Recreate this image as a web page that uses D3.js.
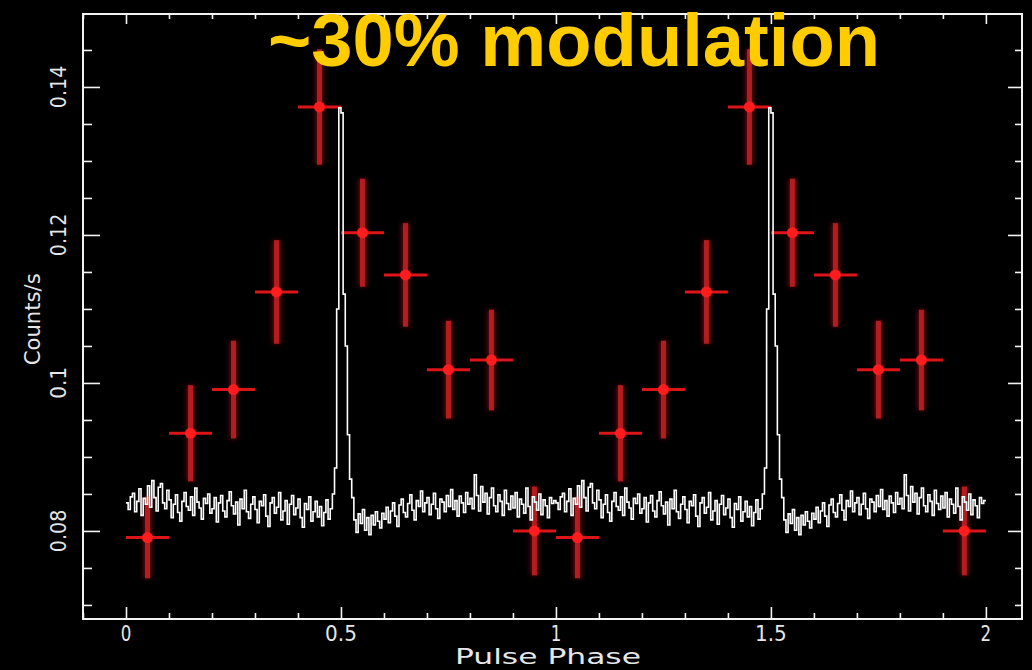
<!DOCTYPE html>
<html><head><meta charset="utf-8">
<script src="https://cdn.jsdelivr.net/npm/d3@7"></script>
<style>html,body{margin:0;padding:0;background:#000;overflow:hidden}</style>
</head><body><svg id="c" width="1032" height="670"></svg>
<script>
// ---------- data ----------
const phaseBins = [0.05, 0.15, 0.25, 0.35, 0.45, 0.55, 0.65, 0.75, 0.85, 0.95];
const countRates = [0.0791, 0.0932, 0.0991, 0.1123, 0.1373, 0.1203, 0.1146, 0.1018, 0.1031, 0.0800];
const countErrors = [0.0055, 0.0065, 0.0066, 0.0070, 0.0078, 0.0073, 0.0070, 0.0066, 0.0068, 0.0060];
const binHalfWidth = 0.05;
const cycles = [0, 1];
// reference (high-resolution) pulse profile, one cycle, 200 bins of 0.005 phase
const profileBinWidth = 0.005;
const profile = [
 0.0838,0.0829,0.0846,0.0851,0.0826,0.0840,0.0857,0.0821,0.0844,0.0836,
 0.0861,0.0832,0.0868,0.0845,0.0827,0.0859,0.0864,0.0838,0.0830,0.0855,
 0.0842,0.0818,0.0836,0.0849,0.0825,0.0813,0.0840,0.0852,0.0833,0.0828,
 0.0846,0.0821,0.0858,0.0839,0.0831,0.0816,0.0844,0.0837,0.0850,0.0824,
 0.0830,0.0845,0.0812,0.0838,0.0848,0.0827,0.0819,0.0841,0.0853,0.0834,
 0.0823,0.0839,0.0808,0.0843,0.0830,0.0855,0.0826,0.0817,0.0836,0.0846,
 0.0829,0.0811,0.0840,0.0834,0.0849,0.0820,0.0806,0.0838,0.0845,0.0824,
 0.0832,0.0852,0.0815,0.0827,0.0841,0.0809,0.0836,0.0848,0.0822,0.0831,
 0.0843,0.0818,0.0805,0.0837,0.0829,0.0846,0.0813,0.0826,0.0840,0.0819,
 0.0833,0.0807,0.0825,0.0842,0.0816,0.0830,
 0.0850,0.0885,0.1100,0.1372,0.1365,0.1120,0.1050,0.0930,0.0870,0.0845,
 0.0815,0.0798,0.0823,0.0810,0.0829,0.0801,0.0818,0.0795,0.0821,0.0808,0.0826,0.0813,0.0804,0.0824,
 0.0816,0.0832,0.0811,0.0827,0.0838,0.0820,0.0806,0.0835,0.0843,0.0825,
 0.0819,0.0837,0.0849,0.0828,0.0815,0.0841,0.0833,0.0854,0.0826,0.0838,
 0.0845,0.0822,0.0836,0.0851,0.0830,0.0817,0.0843,0.0839,0.0826,0.0848,
 0.0833,0.0856,0.0829,0.0841,0.0820,0.0847,0.0838,0.0825,0.0852,0.0836,
 0.0844,0.0830,0.0876,0.0848,0.0827,0.0860,0.0839,0.0851,0.0823,0.0845,
 0.0858,0.0834,0.0826,0.0849,0.0840,0.0821,0.0855,0.0837,0.0829,0.0847,
 0.0831,0.0852,0.0819,0.0843,0.0836,0.0824,0.0858,0.0833,0.0815,0.0846,
 0.0839,0.0828,0.0850,0.0822,0.0842,0.0834,0.0818,0.0845,0.0837,0.0841
];
const xMajorTicks = [0, 0.5, 1, 1.5, 2];
const xTickLabels = ["0", "0.5", "1", "1.5", "2"];
const xMinorTicks = [-0.1,0.1,0.2,0.3,0.4,0.6,0.7,0.8,0.9,1.1,1.2,1.3,1.4,1.6,1.7,1.8,1.9];
const yMajorTicks = [0.08, 0.1, 0.12, 0.14];
const yTickLabels = ["0.08", "0.1", "0.12", "0.14"];
const yMinorTicks = [0.07, 0.075, 0.085, 0.09, 0.095, 0.105, 0.11, 0.115, 0.125, 0.13, 0.135, 0.145];
const xTitle = "Pulse Phase";
const yTitle = "Counts/s";
const chartTitle = "~30% modulation";

// ---------- layout ----------
const W = 1032, H = 670;
const plot = {left: 83, right: 1022, top: 14, bottom: 619};
const x = d3.scaleLinear().domain([-0.1, 2.084]).range([plot.left, plot.right]);
const y = d3.scaleLinear().domain([0.0681, 0.14986]).range([plot.bottom, plot.top]);

const svg = d3.select("#c");
svg.append("rect").attr("width", W).attr("height", H).attr("fill", "#000");

const defs = svg.append("defs");
defs.append("filter").attr("id", "glow").attr("x", "-50%").attr("y", "-50%").attr("width", "200%").attr("height", "200%")
  .append("feGaussianBlur").attr("stdDeviation", 2.5);

// ---------- axes (ticks on all four sides, pointing inward) ----------
const axisCol = "#f2f2f2";
function styleAxis(g) {
  g.select(".domain").remove();
  g.selectAll("line").attr("stroke", axisCol).attr("stroke-width", 1.6);
  g.selectAll("text").remove();
}
svg.append("g").attr("transform", `translate(0,${plot.bottom})`)
  .call(d3.axisBottom(x).tickValues(xMajorTicks).tickSize(-12)).call(styleAxis);
svg.append("g").attr("transform", `translate(0,${plot.bottom})`)
  .call(d3.axisBottom(x).tickValues(xMinorTicks).tickSize(-6)).call(styleAxis);
svg.append("g").attr("transform", `translate(0,${plot.top})`)
  .call(d3.axisTop(x).tickValues(xMajorTicks).tickSize(-10)).call(styleAxis);
svg.append("g").attr("transform", `translate(0,${plot.top})`)
  .call(d3.axisTop(x).tickValues(xMinorTicks).tickSize(-5)).call(styleAxis);
svg.append("g").attr("transform", `translate(${plot.left},0)`)
  .call(d3.axisLeft(y).tickValues(yMajorTicks).tickSize(-17)).call(styleAxis);
svg.append("g").attr("transform", `translate(${plot.left},0)`)
  .call(d3.axisLeft(y).tickValues(yMinorTicks).tickSize(-9)).call(styleAxis);
svg.append("g").attr("transform", `translate(${plot.right},0)`)
  .call(d3.axisRight(y).tickValues(yMajorTicks).tickSize(-14)).call(styleAxis);
svg.append("g").attr("transform", `translate(${plot.right},0)`)
  .call(d3.axisRight(y).tickValues(yMinorTicks).tickSize(-7)).call(styleAxis);

svg.append("rect")
  .attr("x", plot.left).attr("y", plot.top)
  .attr("width", plot.right - plot.left).attr("height", plot.bottom - plot.top)
  .attr("fill", "none").attr("stroke", axisCol).attr("stroke-width", 2);

// tick labels
const labFont = "'DejaVu Sans', sans-serif";
const charW = 10.6;
svg.append("g").selectAll("text").data(xMajorTicks).join("text")
  .attr("x", d => x(d)).attr("y", 641)
  .attr("text-anchor", "middle")
  .attr("font-family", labFont).attr("font-size", 21)
  .attr("fill", "#e6e6e6")
  .attr("textLength", (d, i) => xTickLabels[i].length * charW)
  .attr("lengthAdjust", "spacingAndGlyphs")
  .text((d, i) => xTickLabels[i]);

svg.append("g").selectAll("text").data(yMajorTicks).join("text")
  .attr("transform", d => `translate(66,${y(d)}) rotate(-90)`)
  .attr("text-anchor", "middle")
  .attr("font-family", labFont).attr("font-size", 21)
  .attr("fill", "#e6e6e6")
  .attr("textLength", (d, i) => yTickLabels[i].length * charW)
  .attr("lengthAdjust", "spacingAndGlyphs")
  .text((d, i) => yTickLabels[i]);

svg.append("text")
  .attr("x", (x(0) + x(2)) / 2 - 8).attr("y", 664)
  .attr("text-anchor", "middle")
  .attr("font-family", labFont).attr("font-size", 21)
  .attr("fill", "#e6e6e6")
  .attr("textLength", 186).attr("lengthAdjust", "spacingAndGlyphs")
  .text(xTitle);

svg.append("text")
  .attr("transform", `translate(40,${y(0.1086)}) rotate(-90)`)
  .attr("text-anchor", "middle")
  .attr("font-family", labFont).attr("font-size", 22)
  .attr("fill", "#e6e6e6")
  .attr("textLength", 92).attr("lengthAdjust", "spacingAndGlyphs")
  .text(yTitle);

// ---------- red binned points with error bars ----------
const points = [];
cycles.forEach(c => phaseBins.forEach((p, i) => points.push({ph: c + p, v: countRates[i], e: countErrors[i]})));

const glow = svg.append("g").attr("filter", "url(#glow)").attr("opacity", 0.55);
glow.selectAll("line.v").data(points).join("line")
  .attr("x1", d => x(d.ph)).attr("x2", d => x(d.ph))
  .attr("y1", d => y(d.v + d.e)).attr("y2", d => y(d.v - d.e))
  .attr("stroke", "#b0101a").attr("stroke-width", 8);

const pts = svg.append("g");
pts.selectAll("line.v").data(points).join("line")
  .attr("class", "v")
  .attr("x1", d => x(d.ph)).attr("x2", d => x(d.ph))
  .attr("y1", d => y(d.v + d.e)).attr("y2", d => y(d.v - d.e))
  .attr("stroke", "#b51c20").attr("stroke-width", 5);
pts.selectAll("line.h").data(points).join("line")
  .attr("class", "h")
  .attr("x1", d => x(d.ph - binHalfWidth)).attr("x2", d => x(d.ph + binHalfWidth))
  .attr("y1", d => y(d.v)).attr("y2", d => y(d.v))
  .attr("stroke", "#dd1418").attr("stroke-width", 3);
pts.selectAll("circle").data(points).join("circle")
  .attr("cx", d => x(d.ph)).attr("cy", d => y(d.v)).attr("r", 5.5)
  .attr("fill", "#ff1c1c");

// ---------- white high-resolution profile (two cycles) ----------
const trace = [];
cycles.forEach(c => profile.forEach((v, i) => trace.push([c + i * profileBinWidth, v])));
trace.push([cycles.length, profile[profile.length - 1]]);
const line = d3.line().x(d => x(d[0])).y(d => y(d[1])).curve(d3.curveStepAfter);
svg.append("path").datum(trace)
  .attr("d", line).attr("fill", "none")
  .attr("stroke", "#ffffff").attr("stroke-width", 1.6).attr("stroke-linejoin", "miter");

// ---------- title ----------
svg.append("text")
  .attr("x", 268).attr("y", 66)
  .attr("font-family", "'Liberation Sans', Arial, sans-serif")
  .attr("font-weight", "bold").attr("font-size", 74)
  .attr("fill", "#ffcc00")
  .attr("textLength", 612).attr("lengthAdjust", "spacingAndGlyphs")
  .text(chartTitle);
</script></body></html>
